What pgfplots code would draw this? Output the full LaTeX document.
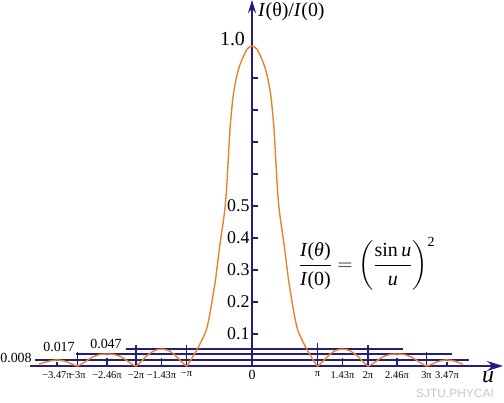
\documentclass[border=0pt]{standalone}
\usepackage{pgfplots}
\pgfplotsset{compat=1.18}
\usepackage{amsmath}
\usepackage{fontspec}
\setmainfont{Liberation Serif}
\newfontfamily\wmfont{Liberation Sans}
\usetikzlibrary{arrows.meta}
\definecolor{navy}{RGB}{35,30,125}
\definecolor{curvec}{RGB}{232,132,40}
\newcommand\ti[1]{\textit{#1}}
\begin{document}
\begin{tikzpicture}[x=1bp,y=1bp]
\useasboundingbox (0,0) rectangle (504,402);
\begin{axis}[
  at={(30bp,36bp)}, anchor=south west, scale only axis,
  width=473bp, height=366bp,
  xmin=-222, xmax=251, ymin=0, ymax=1.14375,
  axis lines=middle, clip=false,
  axis line style={navy, line width=2bp},
  x axis line style={-{Stealth[length=16bp,width=10bp]}},
  y axis line style={-{Stealth[length=13bp,width=8bp]}},
  /pgf/number format/assume math mode=true,
  xtick={-195,-174.5,-145,-116,-90.5,-65.5,65.5,90.5,116,145,174.5,195},
  xticklabels={−3.47π,−3π,−2.46π,−2π,−1.43π,−π,π,1.43π,2π,2.46π,3π,3.47π},
  x tick style={draw=none},
  xticklabel style={font=\fontsize{10.5}{10.5}\selectfont, anchor=north, yshift=1bp},
  ytick={0.1,0.2,0.3,0.4,0.5,0.6,0.7,0.8,0.9},
  yticklabels={0.1,0.2,0.3,0.4,0.5,{},{},{},{}},
  ytick align=inside,
  y tick style={navy, line width=1.5bp},
  major tick length=6bp,
  yticklabel style={font=\fontsize{18}{18}\selectfont, anchor=east, xshift=1bp},
]
% horizontal reference lines at the side-lobe maxima
\addplot[navy, line width=1.5bp] coordinates {(-126,0.053) (151,0.053)};
\addplot[navy, line width=1.5bp] coordinates {(-176,0.0375) (200,0.0375)};
\addplot[navy, line width=1.5bp] coordinates {(-217,0.019) (217,0.019)};
% long tick marks at multiples of pi
\addplot[navy, line width=1.5bp] coordinates {(-65.5,0) (-65.5,0.066)};
\addplot[navy, line width=1.5bp] coordinates {(65.5,0) (65.5,0.072)};
\addplot[navy, line width=1.5bp] coordinates {(-116,0) (-116,0.066)};
\addplot[navy, line width=1.5bp] coordinates {(116,0) (116,0.066)};
\addplot[navy, line width=1.5bp] coordinates {(-174.5,0) (-174.5,0.044)};
\addplot[navy, line width=1.5bp] coordinates {(174.5,0) (174.5,0.044)};
% short tick marks at the maxima
\addplot[navy, line width=1.5bp] coordinates {(-90.5,0) (-90.5,0.025)};
\addplot[navy, line width=1.5bp] coordinates {(90.5,0) (90.5,0.025)};
\addplot[navy, line width=1.5bp] coordinates {(-145,0) (-145,0.025)};
\addplot[navy, line width=1.5bp] coordinates {(145,0) (145,0.025)};
\addplot[navy, line width=1.5bp] coordinates {(-195,0) (-195,0.011)};
\addplot[navy, line width=1.5bp] coordinates {(195,0) (195,0.011)};
% intensity curve
\addplot[curvec, line width=1.4bp, smooth, tension=0.45] coordinates {
 (-213,0.006) (-203,0.015) (-195,0.019) (-187,0.015) (-180,0.006) (-174.5,0)
 (-168,0.011) (-160,0.027) (-152,0.036) (-145,0.0375) (-138,0.036) (-130,0.027) (-122,0.01) (-116,0)
 (-111,0.014) (-104,0.035) (-97,0.049) (-90.5,0.053) (-84,0.049) (-78,0.037) (-70,0.012) (-65.5,0)
 (-63,0.01) (-59,0.03) (-53.5,0.06) (-46,0.11) (-42,0.165) (-36.5,0.27) (-32.5,0.37) (-27.5,0.48)
 (-25.5,0.55) (-24,0.63) (-22,0.74) (-19,0.84) (-15,0.91) (-11,0.95) (-5,0.99) (0,1.0)
 (5,0.99) (11,0.95) (15,0.91) (19,0.84) (22,0.74) (24,0.63) (25.5,0.55) (27.5,0.48)
 (32.5,0.37) (36.5,0.27) (42,0.165) (46,0.11) (53.5,0.06) (59,0.03) (63,0.01) (65.5,0)
 (70,0.012) (78,0.037) (84,0.049) (90.5,0.053) (97,0.049) (104,0.035) (111,0.014) (116,0)
 (122,0.01) (130,0.027) (138,0.036) (145,0.0375) (152,0.036) (160,0.027) (168,0.011) (174.5,0)
 (180,0.006) (187,0.015) (195,0.019) (203,0.015) (211,0.005)
};
% labels
\node[font=\fontsize{14}{14}\selectfont] at (axis cs:-236,0.025) {0.008};
\node[font=\fontsize{14}{14}\selectfont] at (axis cs:-193,0.058) {0.017};
\node[font=\fontsize{14}{14}\selectfont] at (axis cs:-146,0.070) {0.047};
\node[font=\fontsize{20}{20}\selectfont] at (axis cs:-19.5,1.022) {1.0};
\node[font=\fontsize{14}{14}\selectfont] at (axis cs:0,-0.028) {0};
\node[font=\fontsize{20}{20}\selectfont, anchor=west, inner sep=0pt] at (axis cs:6,1.106) {\ti{I}(θ)/\ti{I}(0)};
\node[font=\fontsize{24}{24}\selectfont] at (axis cs:236,-0.035) {\ti{u}};
\node[font=\fontsize{20}{20}\selectfont] at (axis cs:115,0.319)
  {$\dfrac{\text{\ti{I}(\ti{θ})}}{\text{\ti{I}(0)}}=\left(\dfrac{\text{sin\,\ti{u}}}{\text{\ti{u}}}\right)^{\text{2}}$};
\node[font=\wmfont\fontsize{12}{12}\selectfont, text=black!22] at (axis cs:203,-0.084) {SJTU.PHYCAI};
\end{axis}
\end{tikzpicture}
\end{document}
